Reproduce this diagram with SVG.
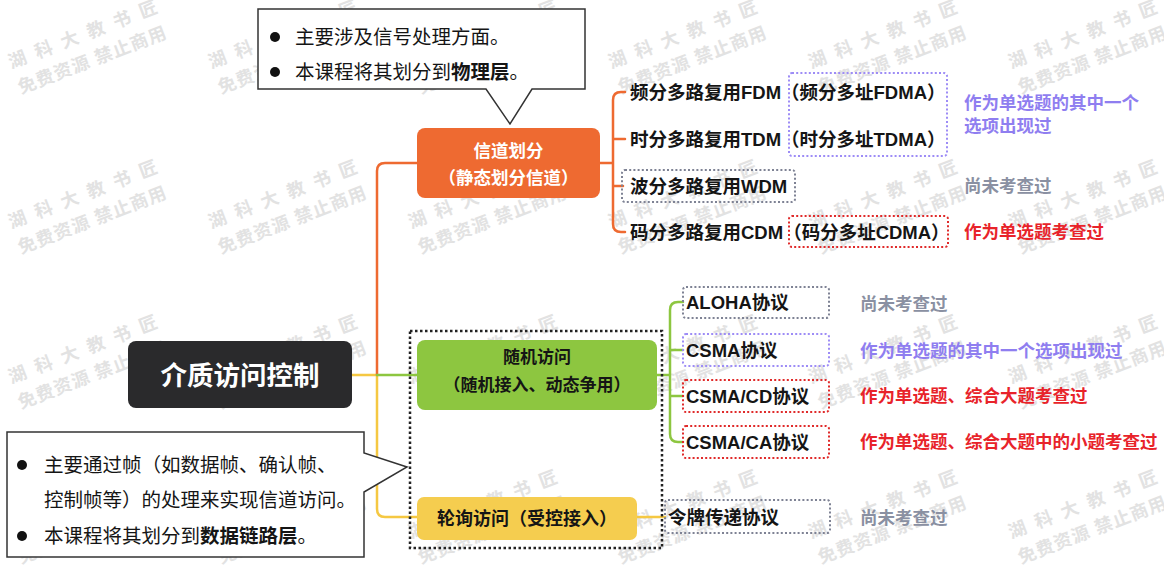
<svg xmlns="http://www.w3.org/2000/svg" xmlns:xlink="http://www.w3.org/1999/xlink" width="1164" height="569" viewBox="0 0 1164 569">
<style>
.t{font-family:"Liberation Sans","Noto Sans CJK SC",sans-serif;}
.b{font-weight:bold;}
.lbl{font-size:18.5px;fill:#151515;font-weight:bold;}
.note{font-size:17.5px;font-weight:bold;}
.gray{fill:#8a90a2;}
.purple{fill:#8f7ef0;}
.red{fill:#e8232a;}
.dot{fill:none;stroke-width:2;stroke-dasharray:2 2.2;}
.dg{stroke:#7e8294;}
.dp{stroke:#9d8cf6;}
.dr{stroke:#e02a2a;}
.conn{fill:none;stroke-width:2.5;stroke-linecap:round;stroke-linejoin:round;}
.callout{fill:#fff;stroke:#333;stroke-width:1.5;}
.ct{font-size:19.5px;fill:#151515;}
.wm{font-size:18px;font-weight:bold;fill:#e2e2e2;}
</style>
<defs>
<g id="wm"><g transform="rotate(-21)">
<text class="t wm" x="-82" y="-6" letter-spacing="10">湖科大教书匠</text>
<text class="t wm" x="-82" y="21" letter-spacing="1">免费资源 禁止商用</text>
</g></g>
</defs>
<rect width="1164" height="569" fill="#fff"/>
<g id="watermark">
<use xlink:href="#wm" transform="translate(90,45)"/>
<use xlink:href="#wm" transform="translate(290,45)"/>
<use xlink:href="#wm" transform="translate(490,45)"/>
<use xlink:href="#wm" transform="translate(690,45)"/>
<use xlink:href="#wm" transform="translate(890,45)"/>
<use xlink:href="#wm" transform="translate(1090,45)"/>
<use xlink:href="#wm" transform="translate(90,205)"/>
<use xlink:href="#wm" transform="translate(290,205)"/>
<use xlink:href="#wm" transform="translate(490,205)"/>
<use xlink:href="#wm" transform="translate(690,205)"/>
<use xlink:href="#wm" transform="translate(890,205)"/>
<use xlink:href="#wm" transform="translate(1090,205)"/>
<use xlink:href="#wm" transform="translate(90,360)"/>
<use xlink:href="#wm" transform="translate(290,360)"/>
<use xlink:href="#wm" transform="translate(490,360)"/>
<use xlink:href="#wm" transform="translate(690,360)"/>
<use xlink:href="#wm" transform="translate(890,360)"/>
<use xlink:href="#wm" transform="translate(1090,360)"/>
<use xlink:href="#wm" transform="translate(90,515)"/>
<use xlink:href="#wm" transform="translate(290,515)"/>
<use xlink:href="#wm" transform="translate(490,515)"/>
<use xlink:href="#wm" transform="translate(690,515)"/>
<use xlink:href="#wm" transform="translate(890,515)"/>
<use xlink:href="#wm" transform="translate(1090,515)"/>
</g>

<g id="connectors">
<path class="conn" stroke="#f5c842" d="M352,375 H377 V509 Q377,517 385,517 H417"/>
<path class="conn" stroke="#ee6a31" d="M377,375 V171 Q377,163 385,163 H417"/>
<path class="conn" stroke="#8dc640" d="M377,375 H417"/>
<path class="conn" stroke="#ee6a31" d="M600,163 H613 M625,92 H621 Q613,92 613,100 V224 Q613,232 621,232 H625 M613,139 H625 M613,186 H623"/>
<path class="conn" stroke="#8dc640" d="M657,375 H670 M683,302 H678 Q670,302 670,310 V434 Q670,442 678,442 H683 M670,350 H683 M670,396 H683"/>
<path class="conn" stroke="#f5c842" d="M637,517 H665"/>
</g>

<g id="callout-top">
<path class="callout" d="M258,9 H585 V89 H532 L510,124 L486,89 H258 Z"/>
<circle cx="275" cy="37" r="5" fill="#111"/>
<circle cx="275" cy="72" r="5" fill="#111"/>
<text class="t ct" x="295" y="44">主要涉及信号处理方面。</text>
<text class="t ct" x="295" y="79">本课程将其划分到<tspan class="b">物理层</tspan>。</text>
</g>

<g id="callout-bottom">
<path class="callout" d="M7,432 H364 V453 L407,467 L364,492 V557 H7 Z"/>
<circle cx="22" cy="465" r="5" fill="#111"/>
<circle cx="22" cy="536" r="5" fill="#111"/>
<text class="t ct" x="44" y="472">主要通过帧（如数据帧、确认帧、</text>
<text class="t ct" x="44" y="507">控制帧等）的处理来实现信道访问。</text>
<text class="t ct" x="44" y="543">本课程将其划分到<tspan class="b">数据链路层</tspan>。</text>
</g>

<g id="node-root">
<rect x="128" y="341" width="224" height="67" rx="8" fill="#2a2a2c"/>
<text class="t b" x="240" y="384.5" font-size="26.5" fill="#fff" text-anchor="middle">介质访问控制</text>
</g>

<g id="node-channel">
<rect x="417" y="128" width="183" height="70" rx="8" fill="#ee6a31"/>
<text class="t b" x="508.5" y="156.5" font-size="17.5" fill="#fff" text-anchor="middle">信道划分</text>
<text class="t b" x="508.5" y="183.5" font-size="17.5" fill="#fff" text-anchor="middle">（静态划分信道）</text>
</g>

<g id="group-dynamic">
<rect x="410" y="331" width="252" height="217" fill="none" stroke="#222" stroke-width="2.5" stroke-dasharray="2.5 2.5"/>
</g>

<g id="node-random">
<rect x="417" y="340" width="240" height="70" rx="8" fill="#8dc640"/>
<text class="t b" x="537" y="363" font-size="17" fill="#151515" text-anchor="middle">随机访问</text>
<text class="t b" x="537" y="391" font-size="17" fill="#151515" text-anchor="middle">（随机接入、动态争用）</text>
</g>

<g id="node-polling">
<rect x="417" y="497" width="220" height="43" rx="7" fill="#f5cd4f"/>
<text class="t b" x="527" y="524.5" font-size="18" fill="#151515" text-anchor="middle">轮询访问（受控接入）</text>
</g>

<g id="node-fdm">
<text class="t lbl" x="630" y="98.5">频分多路复用FDM（频分多址FDMA）</text>
</g>
<g id="node-tdm">
<text class="t lbl" x="630" y="145.5">时分多路复用TDM（时分多址TDMA）</text>
</g>
<rect class="dot dp" x="789" y="73" width="158" height="83" rx="3"/>
<g id="node-wdm">
<rect class="dot dg" x="622" y="170" width="173" height="32" rx="3"/>
<text class="t lbl" x="630" y="192.5">波分多路复用WDM</text>
</g>
<g id="node-cdm">
<text class="t lbl" x="630" y="238.5">码分多路复用CDM（码分多址CDMA）</text>
<rect class="dot dr" x="789" y="216" width="159" height="31" rx="3"/>
</g>

<g id="notes-channel">
<text class="t note purple" x="964" y="109">作为单选题的其中一个</text>
<text class="t note purple" x="964" y="132">选项出现过</text>
<text class="t note gray" x="964" y="192">尚未考查过</text>
<text class="t note red" x="964" y="238">作为单选题考查过</text>
</g>

<g id="node-aloha">
<rect class="dot dg" x="683" y="287" width="146" height="31" rx="3"/>
<text class="t lbl" x="686" y="308.5">ALOHA协议</text>
</g>
<g id="node-csma">
<rect class="dot dp" x="683" y="334" width="146" height="32" rx="3"/>
<text class="t lbl" x="686" y="356.5">CSMA协议</text>
</g>
<g id="node-csmacd">
<rect class="dot dr" x="683" y="380" width="146" height="32" rx="3"/>
<text class="t lbl" x="686" y="402.5">CSMA/CD协议</text>
</g>
<g id="node-csmaca">
<rect class="dot dr" x="683" y="426" width="146" height="32" rx="3"/>
<text class="t lbl" x="686" y="448.5">CSMA/CA协议</text>
</g>
<g id="node-token">
<rect class="dot dg" x="665" y="500" width="165" height="33" rx="3"/>
<text class="t lbl" x="668" y="523.5">令牌传递协议</text>
</g>

<g id="notes-mac">
<text class="t note gray" x="860" y="309.5">尚未考查过</text>
<text class="t note purple" x="860" y="356.5">作为单选题的其中一个选项出现过</text>
<text class="t note red" x="860" y="401.5">作为单选题、综合大题考查过</text>
<text class="t note red" x="860" y="447.5">作为单选题、综合大题中的小题考查过</text>
<text class="t note gray" x="860" y="523.5">尚未考查过</text>
</g>
</svg>
